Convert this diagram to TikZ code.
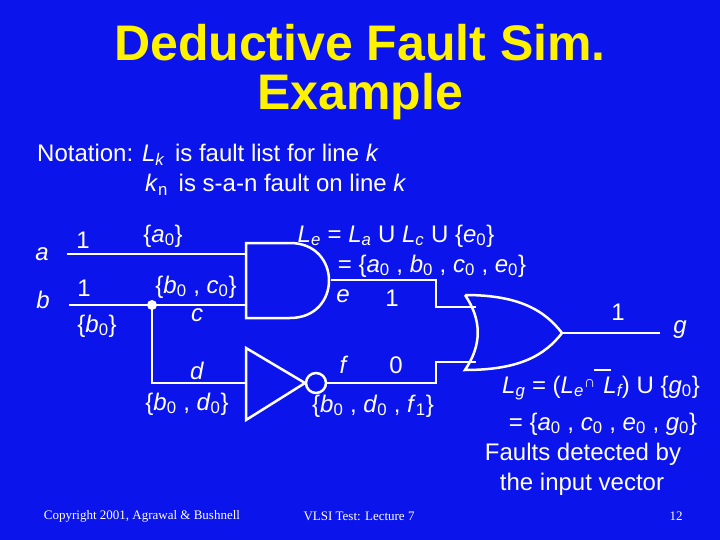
\documentclass[tikz,border=0pt]{standalone}
\usepackage{fontspec}
\setmainfont{Liberation Sans}
\newfontfamily\tms{Liberation Serif}
\newcommand{\sbs}[1]{\textsubscript{#1}}
\begin{document}
\begin{tikzpicture}[x=1pt,y=-1pt,
  wire/.style={white,line width=2.5pt},
  lbl/.style={text=white,font=\fontsize{24}{28}\selectfont,inner sep=0pt},
  tt/.style={text=yellow,font=\fontsize{50}{54}\selectfont\bfseries,inner sep=0pt},
  foot/.style={text=white,font=\tms\fontsize{13}{15}\selectfont,inner sep=0pt}]
\fill[fill={rgb,255:red,10;green,20;blue,235}] (0,0) rectangle (720,540);
\useasboundingbox (0,0) rectangle (720,540);
\node[tt] (t1) at (360,43) {Deductive Fault Sim.};
\node[tt] (t2) at (360,97) {Example};
\node[lbl,anchor=west] (n1) at (37,155) {Notation: \textit{L\sbs{k}}\, is fault list for line \textit{k}};
\node[lbl,anchor=west] (n2) at (145,185) {\textit{k}\sbs{n}\, is s-a-n fault on line \textit{k}};
% wires
\coordinate (ain) at (67,254); \coordinate (bin) at (69,305);
\coordinate (dot) at (152,305);
\draw[wire] (ain) -- (246,254);
\draw[wire] (bin) -- (246,305);
\fill[white] (dot) circle (5);
\draw[wire] (dot) -- (152,383) -- (246,383);
% AND
\draw[wire] (246,243) -- (246,318) -- (290,318) .. controls (342,318) and (342,243) .. (290,243) -- cycle;
% OR
\draw[wire] (465,295) .. controls (482,320) and (482,345) .. (465,370)
  .. controls (520,370) and (545,355) .. (562,333)
  .. controls (545,311) and (520,295) .. (465,295);
% NOT
\draw[wire] (246,348) -- (305,383) -- (246,420) -- cycle;
\draw[wire] (316,383) circle (10);
% outputs
\draw[wire] (331,280) -- (436,280) -- (436,307) -- (476,307);
\draw[wire] (327,383) -- (436,383) -- (436,362) -- (476,362);
\draw[wire] (562,333) -- (660,333);
% labels
\node[lbl] (la) at (42,254) {\textit{a}};
\node[lbl] (lb) at (43,300) {\textit{b}};
\node[lbl] (v1) at (83,240) {1};
\node[lbl] (v2) at (84,288) {1};
\node[lbl] (fa) at (163,236) {\{\textit{a}\sbs{0}\}};
\node[lbl] (fb) at (97,326) {\{\textit{b}\sbs{0}\}};
\node[lbl] (fbc) at (196,287) {\{\textit{b}\sbs{0} , \textit{c}\sbs{0}\}};
\node[lbl] (lc) at (197,315) {\textit{c}};
\node[lbl] (ld) at (197,371) {\textit{d}};
\node[lbl] (fbd) at (187,404) {\{\textit{b}\sbs{0} , \textit{d}\sbs{0}\}};
\node[lbl] (le) at (343,296) {\textit{e}};
\node[lbl] (ve) at (392,298) {1};
\node[lbl] (lf) at (344,365) {\textit{f}};
\node[lbl] (vf) at (396,365) {0};
\node[lbl] (ff) at (373,406) {\{\textit{b}\sbs{0} , \textit{d}\sbs{0} , \textit{f}\sbs{1}\}};
\node[lbl] (vg) at (618,312) {1};
\node[lbl] (lg) at (680,330) {\textit{g}};
\node[lbl] (Le) at (396,236) {\textit{L\sbs{e}} = \textit{L\sbs{a}} U \textit{L\sbs{c}} U \{\textit{e}\sbs{0}\}};
\node[lbl] (Le2) at (432,266) {= \{\textit{a}\sbs{0} , \textit{b}\sbs{0} , \textit{c}\sbs{0} , \textit{e}\sbs{0}\}};
\node[lbl] (Lg) at (601,388) {\textit{L\sbs{g}} = (\textit{L\sbs{e}}\raisebox{6pt}{\fontsize{16}{16}\selectfont\bfseries ∩}\,\,\textit{L\sbs{f}}) U \{\textit{g}\sbs{0}\}};
\draw[white,line width=1.5pt] (594,370) -- (611,370);
\node[lbl] (Lg2) at (603,424) {= \{\textit{a}\sbs{0} , \textit{c}\sbs{0} , \textit{e}\sbs{0} , \textit{g}\sbs{0}\}};
\node[lbl] (fd1) at (583,454) {Faults detected by};
\node[lbl] (fd2) at (582,484) {the input vector};
\node[foot] (c1) at (142,516) {Copyright 2001, Agrawal \& Bushnell};
\node[foot] (c2) at (359,516) {VLSI Test: Lecture 7};
\node[foot] (c3) at (676,516) {12};
\end{tikzpicture}
\end{document}
